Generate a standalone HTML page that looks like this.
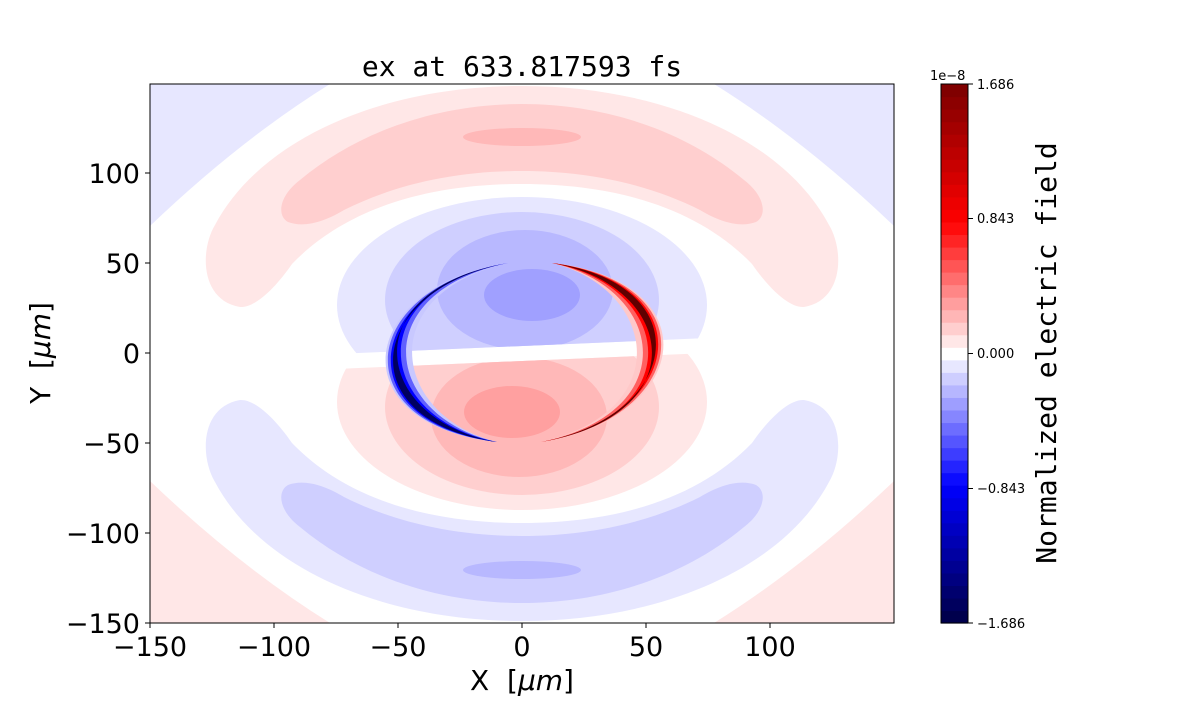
<!DOCTYPE html>
<html><head><meta charset="utf-8"><style>
body{margin:0;background:#fff}
svg text{font-family:"DejaVu Sans","Liberation Sans",sans-serif;white-space:pre}
.mono{font-family:"DejaVu Sans Mono","Liberation Mono",monospace}
</style></head><body>
<svg width="1200" height="700" viewBox="0 0 1200 700" xmlns="http://www.w3.org/2000/svg" xml:space="preserve">
<defs>
<clipPath id="plot"><rect x="150" y="84" width="744" height="539"/></clipPath>
<clipPath id="upper"><polygon points="150,84 894,84 894,330 150,362"/></clipPath>
</defs>
<rect x="150" y="84" width="744" height="539" fill="#fff"/>
<g clip-path="url(#plot)">
  <g>
    <path d="M150,84 L330,84 Q240,140 150,226 Z" fill="#e7e7ff"/>
    <path d="M894,84 L714,84 Q804,140 894,226 Z" fill="#e7e7ff"/>
    <path d="M240,307 C200,300 200,250 215,225 C260,140 380,86 522,86 C664,86 784,140 829,225 C844,250 844,300 804,307 C790,308 770,290 752,264 C700,210 620,184 522,184 C424,184 344,210 292,264 C274,290 254,308 240,307 Z" fill="#ffe7e7"/>
    <path d="M288,222 C276,215 280,195 300,180 C360,130 440,104 522,104 C604,104 684,130 744,180 C764,195 768,215 756,222 C740,228 720,222 700,210 C650,185 590,171 522,171 C454,171 394,185 344,210 C324,222 304,228 288,222 Z" fill="#ffcfcf"/>
    <ellipse cx="522" cy="137" rx="59" ry="9" fill="#ffb8b8"/>
    <g clip-path="url(#upper)">
      <ellipse cx="522" cy="305" rx="185" ry="108" fill="#e7e7ff"/>
      <ellipse cx="522" cy="300" rx="137" ry="88" fill="#cfcfff"/>
      <ellipse cx="525" cy="290" rx="88" ry="60" fill="#b8b8ff"/>
      <ellipse cx="532" cy="295" rx="48" ry="26" fill="#a0a0ff"/>
    </g>
  </g>
  <g transform="rotate(180 522 353.5)">
    <path d="M150,84 L330,84 Q240,140 150,226 Z" fill="#ffe7e7"/>
    <path d="M894,84 L714,84 Q804,140 894,226 Z" fill="#ffe7e7"/>
    <path d="M240,307 C200,300 200,250 215,225 C260,140 380,86 522,86 C664,86 784,140 829,225 C844,250 844,300 804,307 C790,308 770,290 752,264 C700,210 620,184 522,184 C424,184 344,210 292,264 C274,290 254,308 240,307 Z" fill="#e7e7ff"/>
    <path d="M288,222 C276,215 280,195 300,180 C360,130 440,104 522,104 C604,104 684,130 744,180 C764,195 768,215 756,222 C740,228 720,222 700,210 C650,185 590,171 522,171 C454,171 394,185 344,210 C324,222 304,228 288,222 Z" fill="#cfcfff"/>
    <ellipse cx="522" cy="137" rx="59" ry="9" fill="#b8b8ff"/>
    <g clip-path="url(#upper)">
      <ellipse cx="522" cy="305" rx="185" ry="108" fill="#ffe7e7"/>
      <ellipse cx="522" cy="300" rx="137" ry="88" fill="#ffcfcf"/>
      <ellipse cx="525" cy="290" rx="88" ry="60" fill="#ffb8b8"/>
      <ellipse cx="532" cy="295" rx="48" ry="26" fill="#ffa0a0"/>
    </g>
  </g>
  <path d="M508,263 C357,286 337,424 497,442 C392,416 372,294 508,263 Z" fill="#c8c8ff"/>
  <path d="M508,263 C360,287 340,423 497,442 C384,417 364,293 508,263 Z" fill="#6060ff"/>
  <path d="M508,263 C364,288 344,422 497,442 C377,419 357,291 508,263 Z" fill="#0000ff"/>
  <path d="M508,263 C367,289 347,421 497,442 C372,420 352,290 508,263 Z" fill="#000060"/>
  <g transform="rotate(180 524.5 352.5)">
    <path d="M508,263 C357,286 337,424 497,442 C392,416 372,294 508,263 Z" fill="#ffc8c8"/>
    <path d="M508,263 C360,287 340,423 497,442 C384,417 364,293 508,263 Z" fill="#ff6060"/>
    <path d="M508,263 C364,288 344,422 497,442 C377,419 357,291 508,263 Z" fill="#ff0000"/>
    <path d="M508,263 C367,289 347,421 497,442 C372,420 352,290 508,263 Z" fill="#600000"/>
  </g>
</g>
<rect x="150" y="84" width="744" height="539" fill="none" stroke="#000" stroke-width="1"/>
<g stroke="#000" stroke-width="1">
  <line x1="150" y1="623" x2="150" y2="628"/><line x1="274" y1="623" x2="274" y2="628"/>
  <line x1="398" y1="623" x2="398" y2="628"/><line x1="522" y1="623" x2="522" y2="628"/>
  <line x1="646" y1="623" x2="646" y2="628"/><line x1="770" y1="623" x2="770" y2="628"/>
  <line x1="145" y1="173" x2="150" y2="173"/><line x1="145" y1="263" x2="150" y2="263"/>
  <line x1="145" y1="353" x2="150" y2="353"/><line x1="145" y1="443" x2="150" y2="443"/>
  <line x1="145" y1="533" x2="150" y2="533"/><line x1="145" y1="623" x2="150" y2="623"/>
</g>
<g font-size="27" text-anchor="middle">
  <text x="150" y="656">−150</text><text x="274" y="656">−100</text>
  <text x="398" y="656">−50</text><text x="522" y="656">0</text>
  <text x="646" y="656">50</text><text x="770" y="656">100</text>
</g>
<g font-size="27" text-anchor="end">
  <text x="140" y="183">100</text><text x="140" y="273">50</text>
  <text x="140" y="363">0</text><text x="140" y="453">−50</text>
  <text x="140" y="543">−100</text><text x="140" y="633">−150</text>
</g>
<text x="522" y="690" font-size="28" text-anchor="middle">X  [<tspan font-style="italic">μm</tspan>]</text>
<text transform="translate(50 353) rotate(-90)" font-size="28" text-anchor="middle">Y  [<tspan font-style="italic">μm</tspan>]</text>
<text class="mono" x="522" y="76" font-size="28" text-anchor="middle">ex at 633.817593 fs</text>
<g id="cb"></g>
<rect x="941" y="84" width="27" height="539" fill="none" stroke="#000" stroke-width="1"/>
<g stroke="#000"><line x1="968" y1="84" x2="973" y2="84"/><line x1="968" y1="218.5" x2="973" y2="218.5"/><line x1="968" y1="353.5" x2="973" y2="353.5"/><line x1="968" y1="488.5" x2="973" y2="488.5"/><line x1="968" y1="623" x2="973" y2="623"/></g>
<g font-size="13">
  <text x="977" y="89">1.686</text><text x="977" y="223">0.843</text>
  <text x="977" y="358">0.000</text><text x="977" y="493">−0.843</text>
  <text x="977" y="628">−1.686</text>
  <text x="930" y="80">1e−8</text>
</g>
<text class="mono" transform="translate(1056 353) rotate(-90)" font-size="28" text-anchor="middle">Normalized electric field</text>
</svg>
<script>
(function(){
var g=document.getElementById('cb'),n=43,h=539/n,ns='http://www.w3.org/2000/svg';
function cm(t){var r,gg,b,s;
if(t<=0.25){r=0;gg=0;b=0.3+0.7*t/0.25;}
else if(t<=0.5){s=(t-0.25)/0.25;r=s;gg=s;b=1;}
else if(t<=0.75){s=(t-0.5)/0.25;r=1;gg=1-s;b=1-s;}
else{s=(t-0.75)/0.25;r=1-0.5*s;gg=0;b=0;}
return 'rgb('+Math.round(r*255)+','+Math.round(gg*255)+','+Math.round(b*255)+')';}
for(var i=0;i<n;i++){var r=document.createElementNS(ns,'rect');
r.setAttribute('x',941);r.setAttribute('width',27);
r.setAttribute('y',623-(i+1)*h);r.setAttribute('height',h+0.6);
r.setAttribute('fill',cm(i/(n-1)));g.appendChild(r);}
})();
</script>
</body></html>
